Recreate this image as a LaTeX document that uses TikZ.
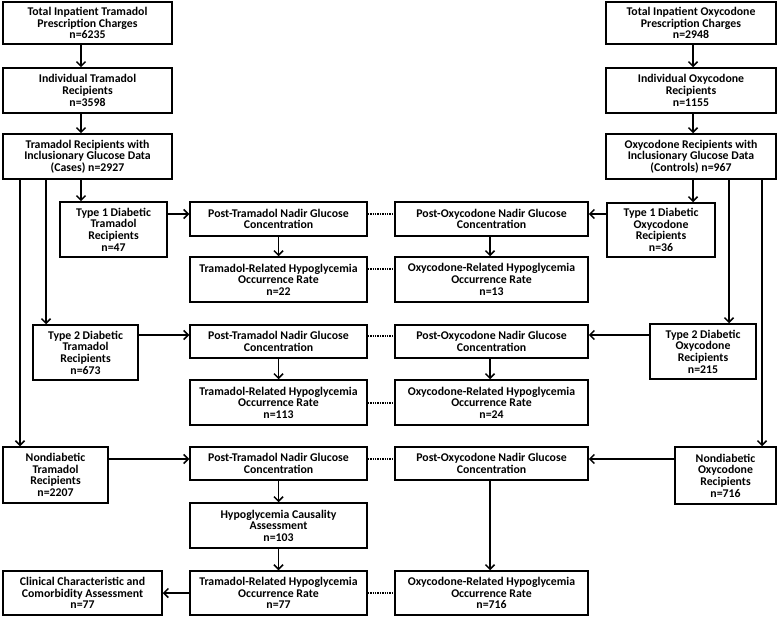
\documentclass[tikz,border=0pt]{standalone}
\usepackage{fontspec}
\setmainfont{Carlito}
\usetikzlibrary{arrows.meta}
\begin{document}
\begin{tikzpicture}[x=1pt,y=-1pt,
  box/.style={draw, line width=1.5pt, align=center, inner sep=0pt,
    font=\fontsize{11.8}{11.6}\selectfont\bfseries},
  arr/.style={line width=1.5pt, -{Straight Barb[length=4.5pt,width=9pt]}},
  dots/.style={line width=1.5pt, dash pattern=on 1.4pt off 1pt}]
\useasboundingbox (0,0) rectangle (778,617);
% left column
\node[box, minimum width=169pt, minimum height=42pt] (L1) at (87.5,23) {Total Inpatient Tramadol\\Prescription Charges\\n=6235};
\node[box, minimum width=169pt, minimum height=45pt] (L2) at (87.5,90.5) {Individual Tramadol\\Recipients\\n=3598};
\node[box, minimum width=169pt, minimum height=45pt] (L3) at (87.5,156.5) {Tramadol Recipients with\\Inclusionary Glucose Data\\(Cases) n=2927};
% right column
\node[box, minimum width=170pt, minimum height=42pt] (R1) at (691,23) {Total Inpatient Oxycodone\\Prescription Charges\\n=2948};
\node[box, minimum width=170pt, minimum height=45pt] (R2) at (691,90.5) {Individual Oxycodone\\Recipients\\n=1155};
\node[box, minimum width=170pt, minimum height=45pt] (R3) at (691,156.5) {Oxycodone Recipients with\\Inclusionary Glucose Data\\(Controls) n=967};
% type 1
\node[box, minimum width=107pt, minimum height=55pt] (T1T) at (113.5,229.5) {Type 1 Diabetic\\Tramadol\\Recipients\\n=47};
\node[box, minimum width=177pt, minimum height=34pt] (PT1) at (278.5,219) {Post-Tramadol Nadir Glucose\\Concentration};
\node[box, minimum width=177pt, minimum height=45pt] (RT1) at (278.5,279.5) {Tramadol-Related Hypoglycemia\\Occurrence Rate\\n=22};
\node[box, minimum width=193pt, minimum height=34pt] (PO1) at (491.5,219) {Post-Oxycodone Nadir Glucose\\Concentration};
\node[box, minimum width=193pt, minimum height=45pt] (RO1) at (491.5,279.5) {Oxycodone-Related Hypoglycemia\\Occurrence Rate\\n=13};
\node[box, minimum width=108pt, minimum height=54pt] (T1O) at (661,230) {Type 1 Diabetic\\Oxycodone\\Recipients\\n=36};
% type 2
\node[box, minimum width=105pt, minimum height=55pt] (T2T) at (85.5,352.5) {Type 2 Diabetic\\Tramadol\\Recipients\\n=673};
\node[box, minimum width=177pt, minimum height=33pt] (PT2) at (278.5,341.5) {Post-Tramadol Nadir Glucose\\Concentration};
\node[box, minimum width=177pt, minimum height=45pt] (RT2) at (278.5,402.5) {Tramadol-Related Hypoglycemia\\Occurrence Rate\\n=113};
\node[box, minimum width=193pt, minimum height=33pt] (PO2) at (491.5,341.5) {Post-Oxycodone Nadir Glucose\\Concentration};
\node[box, minimum width=193pt, minimum height=45pt] (RO2) at (491.5,402.5) {Oxycodone-Related Hypoglycemia\\Occurrence Rate\\n=24};
\node[box, minimum width=106pt, minimum height=55pt] (T2O) at (703,351.5) {Type 2 Diabetic\\Oxycodone\\Recipients\\n=215};
% nondiabetic
\node[box, minimum width=105pt, minimum height=56pt] (NDT) at (55.5,475) {Nondiabetic\\Tramadol\\Recipients\\n=2207};
\node[box, minimum width=177pt, minimum height=33pt] (PT3) at (278.5,463.5) {Post-Tramadol Nadir Glucose\\Concentration};
\node[box, minimum width=177pt, minimum height=45pt] (HC) at (278.5,525.5) {Hypoglycemia Causality\\Assessment\\n=103};
\node[box, minimum width=177pt, minimum height=44pt] (RT3) at (278.5,593) {Tramadol-Related Hypoglycemia\\Occurrence Rate\\n=77};
\node[box, minimum width=159pt, minimum height=44pt] (CL) at (82.5,593) {Clinical Characteristic and\\Comorbidity Assessment\\n=77};
\node[box, minimum width=193pt, minimum height=33pt] (PO3) at (491.5,463.5) {Post-Oxycodone Nadir Glucose\\Concentration};
\node[box, minimum width=193pt, minimum height=44pt] (RO3) at (491.5,593) {Oxycodone-Related Hypoglycemia\\Occurrence Rate\\n=716};
\node[box, minimum width=101pt, minimum height=57pt] (NDO) at (725.5,475.5) {Nondiabetic\\Oxycodone\\Recipients\\n=716};
% top chains
\draw[arr] (L1.south -| 81,0) -- (L2.north -| 81,0);
\draw[arr] (L2.south -| 81,0) -- (L3.north -| 81,0);
\draw[arr] (L3.south -| 81,0) -- (T1T.north -| 81,0);
\draw[arr] (R1.south -| 693,0) -- (R2.north -| 693,0);
\draw[arr] (R2.south -| 693,0) -- (R3.north -| 693,0);
\draw[arr] (R3.south -| 693,0) -- (T1O.north -| 693,0);
% branch lines
\draw[arr] (L3.south -| 46,0) -- (T2T.north -| 46,0);
\draw[arr] (L3.south -| 20,0) -- (NDT.north -| 20,0);
\draw[arr] (R3.south -| 729,0) -- (T2O.north -| 729,0);
\draw[arr] (R3.south -| 762,0) -- (NDO.north -| 762,0);
% horizontal arrows
\draw[arr] (T1T.east |- 0,214) -- (PT1.west |- 0,214);
\draw[arr] (T2T.east |- 0,335) -- (PT2.west |- 0,335);
\draw[arr] (NDT.east |- 0,459) -- (PT3.west |- 0,459);
\draw[arr] (T1O.west |- 0,214) -- (PO1.east |- 0,214);
\draw[arr] (T2O.west |- 0,335) -- (PO2.east |- 0,335);
\draw[arr] (NDO.west |- 0,459) -- (PO3.east |- 0,459);
\draw[arr] (RT3.west) -- (CL.east);
% vertical arrows in middle
\draw[arr] (PT1) -- (RT1);
\draw[arr] (PT2) -- (RT2);
\draw[arr] (PT3) -- (HC);
\draw[arr] (HC) -- (RT3);
\draw[arr] (PO1.south -| 490,0) -- (RO1.north -| 490,0);
\draw[arr] (PO2.south -| 490,0) -- (RO2.north -| 490,0);
\draw[arr] (PO3.south -| 490,0) -- (RO3.north -| 490,0);
% dotted links
\draw[dots] (PT1.east |- 0,214) -- (PO1.west |- 0,214);
\draw[dots] (RT1.east |- 0,269) -- (RO1.west |- 0,269);
\draw[dots] (PT2.east |- 0,336) -- (PO2.west |- 0,336);
\draw[dots] (RT2.east |- 0,403) -- (RO2.west |- 0,403);
\draw[dots] (PT3.east |- 0,459) -- (PO3.west |- 0,459);
\draw[dots] (RT3.east |- 0,593) -- (RO3.west |- 0,593);
\end{tikzpicture}
\end{document}
